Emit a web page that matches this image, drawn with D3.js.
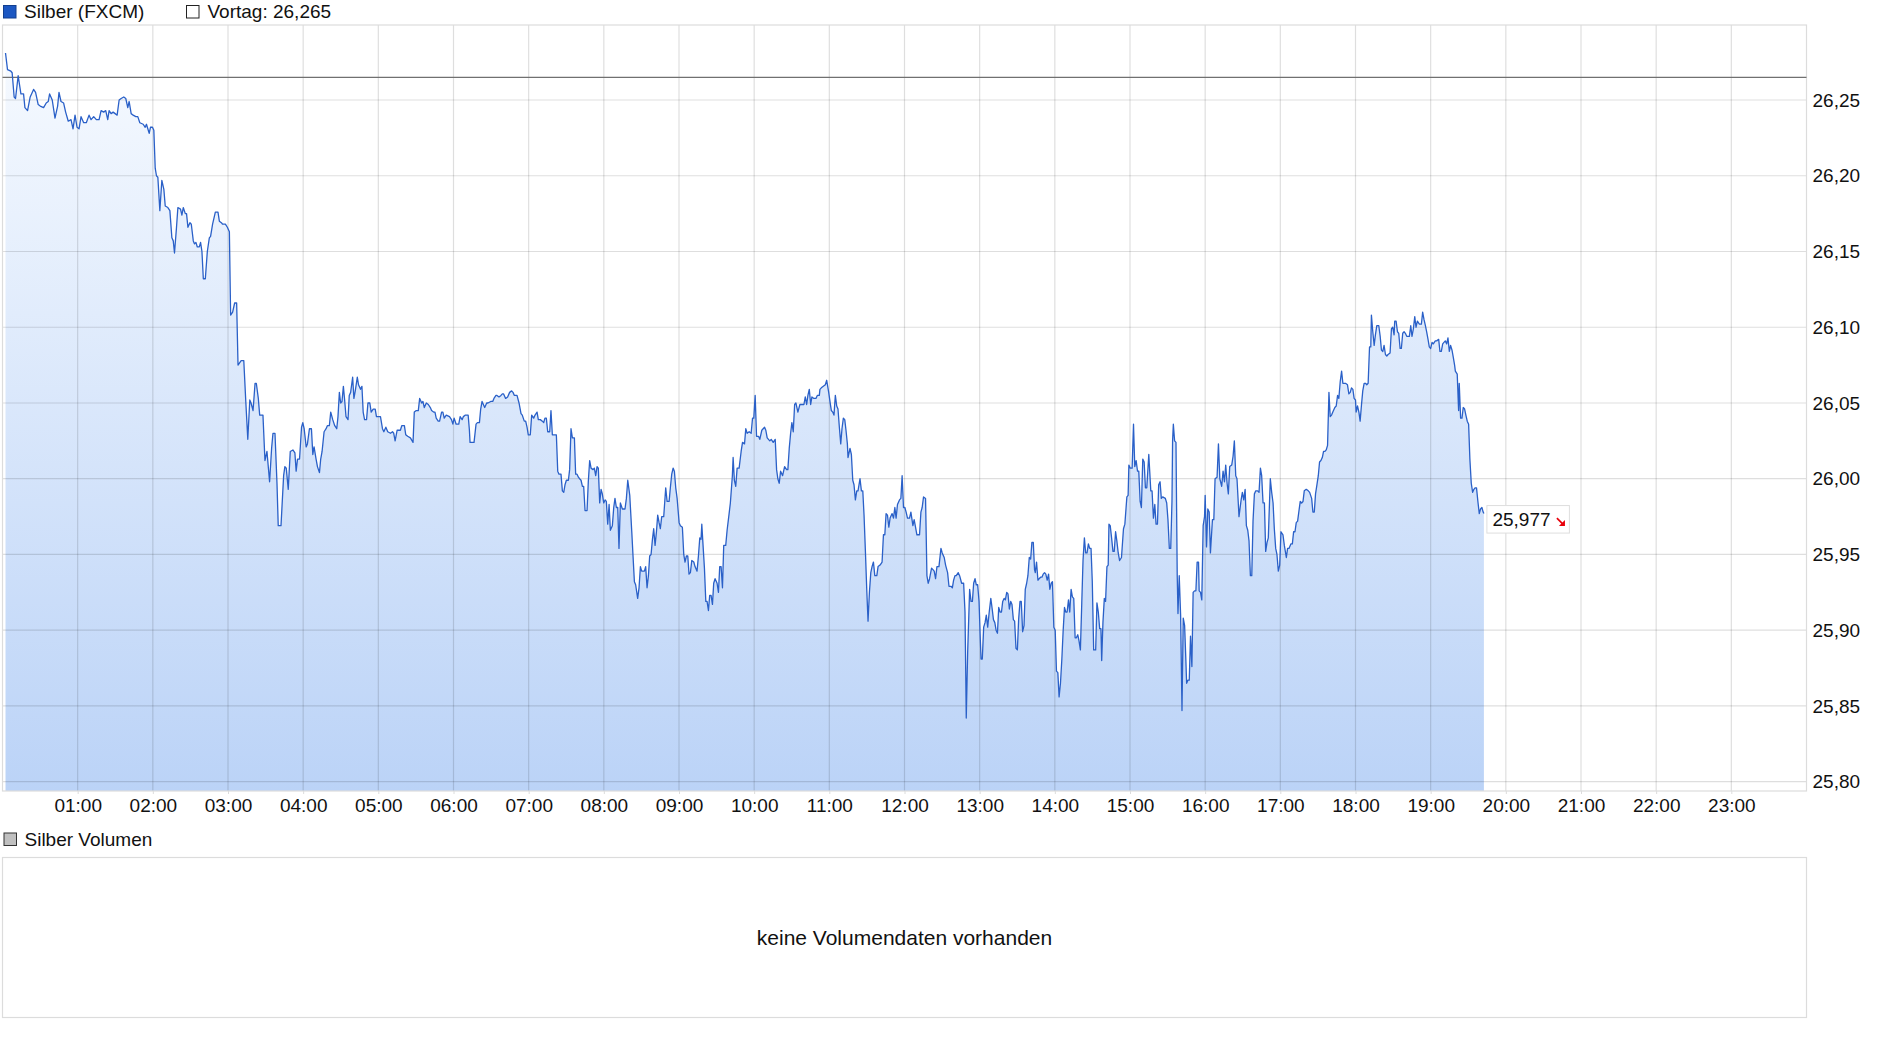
<!DOCTYPE html>
<html>
<head>
<meta charset="utf-8">
<script src="https://cdn.jsdelivr.net/npm/d3@7"></script>
<style>
  html, body { margin: 0; padding: 0; background: #fff; }
  svg { display: block; }
  text { font-family: "Liberation Sans", Arial, sans-serif; }
</style>
</head>
<body>
<svg id="chart" width="1880" height="1037"></svg>
<script>
// ---------- data ----------
const seriesName = "Silber (FXCM)";
const prevClose = 26.265;
const lastPrice = 25.977;
const volumeName = "Silber Volumen";
const volumeNote = "keine Volumendaten vorhanden";
const yTicks = [25.80, 25.85, 25.90, 25.95, 26.00, 26.05, 26.10, 26.15, 26.20, 26.25];
const hourTicks = [1,2,3,4,5,6,7,8,9,10,11,12,13,14,15,16,17,18,19,20,21,22,23];
// [minutes since 00:00, price]
const silber = [
[2.4,26.281],[4.0,26.270],[6.7,26.269],[7.7,26.268],[9.3,26.252],[10.4,26.251],[12.5,26.266],[14.7,26.254],[16.8,26.254],[17.9,26.245],[20.0,26.243],[22.1,26.252],[24.8,26.257],[26.4,26.255],[28.5,26.247],[30.1,26.246],[32.8,26.245],[34.9,26.248],[36.5,26.249],[37.6,26.254],[39.7,26.250],[41.9,26.238],[44.0,26.246],[45.1,26.255],[46.7,26.249],[48.8,26.248],[50.4,26.242],[52.5,26.236],[54.7,26.237],[56.3,26.231],[57.9,26.240],[59.5,26.232],[61.1,26.231],[62.7,26.239],[64.8,26.235],[66.9,26.235],[69.1,26.240],[70.7,26.237],[72.8,26.239],[74.9,26.237],[77.1,26.237],[78.7,26.243],[80.8,26.242],[82.4,26.243],[84.0,26.237],[85.1,26.243],[86.7,26.241],[88.3,26.242],[89.9,26.241],[91.5,26.240],[93.1,26.250],[94.7,26.251],[96.8,26.252],[98.4,26.251],[100.0,26.245],[101.1,26.249],[102.7,26.241],[104.3,26.240],[106.4,26.239],[108.0,26.239],[109.6,26.235],[112.3,26.234],[113.9,26.232],[114.9,26.234],[116.0,26.231],[117.1,26.228],[118.1,26.232],[119.7,26.232],[120.8,26.230],[121.9,26.205],[122.9,26.200],[124.0,26.199],[125.6,26.177],[127.2,26.197],[128.8,26.191],[129.9,26.180],[132.0,26.179],[133.6,26.177],[135.2,26.159],[136.3,26.157],[137.3,26.149],[138.9,26.166],[140.0,26.179],[142.1,26.178],[143.2,26.174],[144.3,26.179],[145.9,26.175],[146.9,26.175],[148.0,26.166],[149.6,26.169],[150.7,26.168],[152.3,26.157],[153.3,26.155],[154.4,26.156],[155.5,26.153],[157.1,26.153],[158.1,26.156],[159.2,26.150],[160.3,26.132],[161.9,26.132],[163.5,26.150],[165.1,26.159],[166.1,26.160],[167.7,26.168],[169.9,26.176],[172.0,26.176],[173.1,26.170],[174.7,26.169],[175.7,26.168],[177.9,26.168],[179.5,26.166],[181.1,26.163],[182.1,26.108],[183.7,26.110],[185.3,26.116],[186.9,26.116],[188.0,26.075],
[190.5,26.078],[192.6,26.078],[194.2,26.051],[195.8,26.026],[197.4,26.052],[198.4,26.050],[200.0,26.045],[201.6,26.063],[202.6,26.063],[204.2,26.053],[205.3,26.042],[207.9,26.042],[209.5,26.012],[211.1,26.018],[213.2,25.998],[214.8,26.020],[215.9,26.030],[217.5,26.030],[219.1,25.997],[220.1,25.969],[222.3,25.969],[224.4,26.002],[225.4,26.008],[226.5,26.007],[228.1,25.993],[229.7,26.018],[231.8,26.019],[233.4,26.017],[234.4,26.005],[235.5,26.013],[237.1,26.013],[238.7,26.034],[239.7,26.037],[240.8,26.033],[242.4,26.021],[243.4,26.023],[245.0,26.033],[246.6,26.033],[247.7,26.016],[248.7,26.021],[250.3,26.013],[251.4,26.008],[253.0,26.004],[254.0,26.013],[255.1,26.018],[256.7,26.031],[258.3,26.033],[259.3,26.035],[260.9,26.035],[262.0,26.044],[263.6,26.039],[265.2,26.035],[266.8,26.033],[267.8,26.041],[268.9,26.057],[269.9,26.050],[271.0,26.051],[272.1,26.061],[273.1,26.052],[274.2,26.041],[275.8,26.039],[276.8,26.055],[277.9,26.057],[279.5,26.067],[280.5,26.053],[281.6,26.058],[283.2,26.067],[284.2,26.062],[285.8,26.059],[286.9,26.061],[287.9,26.044],[289.0,26.039],[290.6,26.039],[291.7,26.050],[293.2,26.050],[294.3,26.044],[295.9,26.046],[297.5,26.046],[298.5,26.041],[300.7,26.041],[301.7,26.041],[303.3,26.033],[304.4,26.031],[306.0,26.034],[307.5,26.031],[309.7,26.030],[311.3,26.031],[312.3,26.030],[313.4,26.025],[315.0,26.032],[317.6,26.032],[318.7,26.035],[320.8,26.035],[321.9,26.029],[323.4,26.028],[325.6,26.027],[327.7,26.024],[328.7,26.044],[330.3,26.045],[331.9,26.045],[333.0,26.053],[334.6,26.050],[335.6,26.051],[336.7,26.047],[338.3,26.050],[339.9,26.049],[341.5,26.047],[342.5,26.045],[344.1,26.044],[345.2,26.044],[346.2,26.040],[347.8,26.038],[348.9,26.038],[350.5,26.044],[351.5,26.044],[352.6,26.040],[354.2,26.042],[356.8,26.041],[358.4,26.039],[359.5,26.036],[360.5,26.040],[362.1,26.036],[364.2,26.036],[365.3,26.041],[366.9,26.039],[367.9,26.041],[369.5,26.042],[371.7,26.042],[372.7,26.032],[373.2,26.024],[376.4,26.024],[378.0,26.036],[379.1,26.037],[380.7,26.037],[381.7,26.046],[382.8,26.051],[384.9,26.047],[386.5,26.050],[387.5,26.050],[389.7,26.051],[391.3,26.051],[392.3,26.053],[393.9,26.055],
[394.7,26.055],[396.3,26.054],[397.9,26.055],[399.0,26.056],[400.0,26.056],[401.6,26.053],[403.2,26.054],[404.8,26.057],[406.4,26.058],[407.5,26.057],[408.6,26.055],[410.7,26.055],[412.3,26.050],[413.9,26.043],[414.9,26.042],[416.5,26.038],[417.6,26.038],[418.7,26.034],[419.7,26.029],[421.3,26.029],[422.4,26.042],[424.0,26.040],[425.1,26.042],[426.7,26.044],[427.7,26.039],[429.3,26.039],[430.9,26.038],[432.0,26.037],[433.0,26.040],[434.1,26.040],[435.2,26.031],[436.8,26.031],[437.8,26.045],[438.9,26.029],[440.5,26.029],[442.1,26.029],[443.2,26.005],[444.2,26.003],[445.8,26.003],[446.9,25.992],[448.0,25.991],[449.0,25.996],[450.1,25.999],[451.7,25.999],[452.7,26.006],[453.8,26.033],[454.9,26.027],[456.5,26.027],[457.5,26.003],[458.6,26.003],[459.7,26.001],[460.7,26.000],[461.8,25.999],[462.9,25.995],[463.9,25.995],[465.0,25.979],[466.6,25.979],[467.6,25.998],[468.7,26.012],[469.8,26.007],[471.4,26.006],[472.4,26.007],[473.5,26.002],[474.6,26.008],[475.6,26.007],[476.7,25.984],[477.8,25.993],[478.8,25.990],[479.9,25.984],[481.0,25.986],[482.0,25.985],[483.1,25.970],[484.2,25.983],[485.2,25.966],[486.8,25.969],[487.9,25.981],[488.9,25.987],[490.0,25.981],[491.1,25.981],[492.1,25.954],[493.2,25.984],[494.8,25.980],[496.9,25.980],[498.0,25.987],[499.1,25.999],[500.7,25.989],[502.3,25.965],[503.3,25.949],[504.4,25.932],[505.4,25.930],[507.0,25.921],[508.1,25.928],[509.2,25.942],[510.2,25.939],[512.4,25.939],[513.4,25.942],[514.5,25.928],[515.6,25.936],[516.6,25.949],[517.7,25.950],[518.8,25.960],[519.8,25.967],[520.9,25.956],[522.0,25.965],[523.0,25.976],[524.1,25.971],[525.1,25.967],[526.2,25.975],[527.8,25.975],[529.4,25.994],[530.5,25.985],[532.1,25.985],[533.1,25.994],[534.2,26.003],[535.3,26.007],[536.3,26.005],[537.4,25.994],[538.5,25.987],[540.1,25.971],[541.1,25.969],[542.7,25.968],[543.8,25.950],[544.8,25.945],[545.9,25.949],[547.0,25.949],[548.0,25.937],[549.1,25.938],[550.2,25.946],[551.8,25.945],[552.8,25.942],[554.4,25.939],[555.5,25.949],[556.6,25.961],[557.6,25.960],[558.2,25.970],[559.2,25.956],[560.3,25.941],[561.4,25.919],[562.4,25.919],[563.5,25.913],[564.5,25.923],[565.6,25.923],[566.7,25.917],[567.7,25.931],[568.8,25.934],[570.4,25.931],[571.5,25.925],[572.5,25.942],[573.6,25.942],[574.7,25.928],[575.7,25.956],[577.3,25.956],[578.4,25.966],[580.0,25.977],[581.0,25.984],[582.6,26.002],[583.2,26.014],[584.2,25.999],[585.3,25.995],[586.4,26.007],[588.0,26.007],
[589.6,26.018],[590.7,26.024],[592.3,26.023],[593.3,26.033],[594.4,26.030],[596.0,26.031],[597.6,26.030],[598.7,26.040],[599.7,26.040],[600.8,26.055],[601.9,26.028],[603.5,26.028],[604.5,26.026],[606.1,26.032],[608.3,26.034],[609.3,26.032],[610.4,26.027],[612.5,26.025],[613.6,26.026],[615.2,26.024],[616.8,26.026],[617.9,26.006],[618.9,26.000],[620.0,25.997],[621.1,26.005],[622.7,26.002],[624.3,26.008],[625.9,26.006],[626.9,26.006],[628.0,26.020],[629.1,26.030],[630.1,26.037],[631.2,26.031],[632.3,26.049],[633.3,26.050],[634.9,26.044],[636.5,26.049],[638.7,26.049],[639.7,26.049],[640.8,26.054],[641.9,26.049],[642.9,26.055],[644.0,26.059],[645.1,26.049],[646.1,26.054],[647.7,26.053],[649.3,26.053],[650.4,26.055],[652.0,26.055],[652.5,26.059],[653.6,26.060],[655.2,26.061],[656.8,26.062],[657.9,26.065],[659.5,26.057],[660.5,26.051],[661.6,26.045],[662.7,26.044],[663.7,26.042],[664.8,26.055],[665.9,26.048],[666.9,26.046],[668.0,26.034],[669.1,26.023],[670.1,26.033],[671.2,26.040],[672.3,26.039],[673.3,26.032],[674.4,26.023],[674.9,26.014],[676.5,26.020],[677.6,26.016],[678.7,25.999],[679.7,25.996],[680.8,25.986],[681.9,25.992],[682.9,25.992],[684.5,26.000],[685.6,25.992],[686.7,25.992],[687.7,25.976],[688.8,25.952],[689.9,25.926],[690.9,25.906],[692.0,25.925],[693.1,25.938],[694.1,25.942],[695.2,25.945],[696.3,25.936],[697.9,25.936],[698.9,25.942],[700.5,25.943],[702.1,25.945],[703.2,25.963],[704.3,25.963],[705.3,25.977],[706.4,25.976],[707.5,25.968],[708.5,25.974],[710.1,25.977],[711.2,25.974],[712.3,25.981],[713.3,25.974],[714.4,25.983],[716.0,25.986],[717.1,25.987],[718.1,26.002],[719.2,25.981],[720.3,25.981],[721.3,25.978],[722.4,25.974],[724.0,25.974],[725.1,25.978],[726.7,25.969],[727.7,25.973],[728.8,25.968],[729.9,25.963],[732.0,25.963],[733.1,25.978],[734.1,25.981],[735.2,25.988],[736.8,25.987],[737.9,25.936],[738.9,25.931],[740.0,25.934],[741.6,25.941],[742.7,25.940],[743.7,25.939],[744.8,25.934],[745.9,25.942],[747.5,25.942],[749.1,25.954],[750.1,25.951],[751.7,25.948],[752.8,25.943],[754.4,25.938],[755.5,25.929],[757.1,25.929],[758.2,25.928],[759.2,25.933],[760.3,25.936],[761.3,25.936],[762.9,25.938],[764.0,25.936],[765.6,25.931],[767.2,25.931],[768.3,25.912],[769.3,25.842],[770.4,25.885],[772.0,25.927],[773.1,25.919],[774.2,25.919],[775.2,25.931],[776.3,25.934],[777.3,25.930],[778.4,25.930],[779.5,25.919],[780.5,25.894],[781.1,25.881],[782.1,25.881],[783.2,25.902],[784.3,25.905],[785.3,25.910],[786.4,25.902],[787.5,25.911],
[788.9,25.921],[790.0,25.914],[791.0,25.907],[792.1,25.905],[793.1,25.900],[794.2,25.898],[795.2,25.915],[796.3,25.912],[797.4,25.912],[798.4,25.919],[799.5,25.921],[800.5,25.920],[801.6,25.925],[802.6,25.924],[803.7,25.914],[804.8,25.919],[805.8,25.917],[806.9,25.907],[807.9,25.906],[809.0,25.888],[810.1,25.887],[811.1,25.907],[812.2,25.919],[813.2,25.919],[814.3,25.899],[815.4,25.903],[816.4,25.927],[817.5,25.931],[818.5,25.936],[819.6,25.948],[820.7,25.947],[821.7,25.958],[822.8,25.958],[823.8,25.940],[824.4,25.938],[825.4,25.945],[826.5,25.933],[827.5,25.934],[828.6,25.935],[829.7,25.935],[830.7,25.937],[831.8,25.938],[832.8,25.937],[833.9,25.933],[835.0,25.937],[836.0,25.927],[837.1,25.931],[838.1,25.932],[839.2,25.902],[840.3,25.900],[841.3,25.873],[842.4,25.872],[843.4,25.856],[844.5,25.865],[845.6,25.881],[846.6,25.899],[847.7,25.915],[848.7,25.912],[849.8,25.912],[850.9,25.920],[851.9,25.912],[853.0,25.927],[854.0,25.922],[855.1,25.921],[856.2,25.895],[857.2,25.895],[858.3,25.897],[859.3,25.893],[860.4,25.887],[861.5,25.918],[862.5,25.946],[863.6,25.961],[864.6,25.951],[865.7,25.951],[866.8,25.957],[867.8,25.954],[868.9,25.954],[869.9,25.932],[871.0,25.887],[872.6,25.887],[873.6,25.918],[874.7,25.912],[875.8,25.901],[876.8,25.901],[877.4,25.880],[878.4,25.905],[879.5,25.921],[880.5,25.919],[881.6,25.942],[882.6,25.943],[883.2,25.970],[884.2,25.969],[885.3,25.961],[886.4,25.952],[887.4,25.952],[888.5,25.965],[889.5,25.959],[890.6,25.951],[891.7,25.946],[893.2,25.948],[894.8,25.967],[895.9,25.970],[897.5,25.988],[898.5,25.989],[899.1,26.009],[900.1,26.007],[901.7,26.007],[902.8,26.036],[903.8,26.008],[904.9,26.012],[906.0,26.005],[907.0,26.005],[908.1,25.985],[909.1,25.981],[910.2,26.013],[911.3,26.011],[912.3,25.994],[913.4,25.994],[915.0,26.016],[916.6,25.992],[917.6,25.992],[918.7,25.974],[919.8,25.983],[920.8,25.970],[921.9,25.970],[922.9,25.996],[924.0,25.998],[925.0,25.987],[926.1,25.988],[928.2,25.987],[929.3,25.984],[930.3,25.973],[931.4,25.954],[932.5,25.954],[933.5,25.985],[934.0,26.025],[934.6,26.036],[935.6,26.025],[936.7,26.024],[937.7,25.936],[938.3,25.911],[939.3,25.936],[940.4,25.910],[941.5,25.847],[942.5,25.908],[943.6,25.903],[944.6,25.880],[945.2,25.865],[946.2,25.867],[947.3,25.867],[948.3,25.896],[949.4,25.876],[950.4,25.925],[951.5,25.926],[952.6,25.926],[953.6,25.945],[954.7,25.945],[955.2,25.926],[956.3,25.925],[957.3,25.920],[958.4,25.969],[959.5,25.975],[960.0,25.989],[961.1,25.955],[962.1,25.980],[963.2,25.978],[964.2,25.951],[965.8,25.973],[966.9,25.973],[967.9,26.000],[969.5,26.001],[970.6,26.023],[971.7,26.000],[973.2,25.995],[974.3,26.005],[975.4,25.998],[976.4,26.009],[977.5,25.997],[978.5,25.990],[979.6,26.008],[981.2,26.009],[982.3,26.015],[983.3,26.025],[984.4,26.002],[985.4,26.000],[986.5,25.983],[987.0,25.975],
[988.7,25.986],[989.7,25.991],[990.8,25.986],[991.9,25.993],[992.9,25.969],[994.0,25.966],[995.0,25.959],[996.1,25.936],[997.2,25.936],[998.2,25.972],[999.3,25.990],[1000.4,25.992],[1001.9,25.992],[1003.0,25.991],[1004.1,26.007],[1005.1,26.002],[1006.2,25.984],[1007.3,25.984],[1008.3,25.952],[1009.4,25.958],[1010.4,25.961],[1012.0,26.000],[1013.1,25.991],[1014.2,25.984],[1015.2,25.967],[1016.3,25.954],[1017.3,25.950],[1018.4,25.939],[1019.5,25.943],[1020.5,25.965],[1022.1,25.963],[1023.2,25.956],[1024.8,25.948],[1025.8,25.954],[1026.9,25.954],[1028.5,25.957],[1029.6,25.957],[1030.6,25.965],[1031.7,25.965],[1032.7,25.971],[1033.8,25.972],[1034.9,25.979],[1035.9,25.985],[1037.0,25.984],[1038.1,25.985],[1039.1,25.992],[1040.7,25.993],[1042.3,25.992],[1043.4,25.991],[1045.0,25.987],[1046.0,25.978],[1047.1,25.978],[1048.1,25.990],[1049.2,25.996],[1050.3,26.002],[1051.3,26.011],[1052.4,26.012],[1053.5,26.014],[1054.5,26.018],[1055.6,26.018],[1056.6,26.019],[1057.7,26.022],[1058.8,26.057],[1059.8,26.041],[1060.9,26.042],[1061.9,26.044],[1063.5,26.047],[1064.6,26.048],[1065.7,26.055],[1066.7,26.053],[1067.8,26.064],[1068.9,26.071],[1069.9,26.063],[1071.0,26.063],[1072.0,26.063],[1073.6,26.062],[1074.7,26.056],[1075.8,26.057],[1076.8,26.060],[1077.9,26.059],[1078.9,26.053],[1080.0,26.052],[1080.5,26.044],[1081.6,26.048],[1082.7,26.044],[1083.7,26.038],[1084.8,26.049],[1085.8,26.058],[1086.9,26.063],[1088.0,26.063],[1089.0,26.062],[1090.1,26.063],[1091.2,26.087],[1092.2,26.087],[1092.7,26.108],[1093.8,26.097],[1094.9,26.088],[1095.9,26.095],[1097.0,26.101],[1098.6,26.101],[1099.7,26.094],[1100.7,26.085],[1101.8,26.084],[1102.8,26.088],[1103.9,26.082],[1105.0,26.081],[1106.0,26.082],[1107.6,26.083],[1108.7,26.099],[1109.7,26.100],[1110.8,26.095],[1111.3,26.104],[1112.4,26.104],[1113.5,26.097],[1114.5,26.096],[1115.6,26.086],[1116.6,26.086],[1117.7,26.096],[1118.8,26.097],[1119.8,26.096],[1120.9,26.094],[1122.0,26.094],[1123.0,26.094],[1124.1,26.101],[1125.1,26.094],[1126.2,26.099],[1127.3,26.107],[1128.3,26.100],[1129.4,26.104],[1131.0,26.102],[1132.6,26.102],[1133.6,26.110],[1134.7,26.105],[1135.8,26.101],[1136.8,26.097],[1137.9,26.092],[1138.9,26.087],[1140.0,26.086],[1141.1,26.090],[1142.1,26.089],[1143.7,26.091],[1144.8,26.091],[1146.4,26.092],[1147.4,26.084],[1148.5,26.084],[1149.6,26.089],[1150.6,26.090],[1151.7,26.091],[1152.8,26.089],[1153.8,26.093],[1154.9,26.084],[1155.9,26.088],[1157.0,26.085],[1158.1,26.080],[1159.1,26.075],[1159.7,26.071],[1161.2,26.069],[1162.3,26.045],[1162.8,26.063],[1163.9,26.040],[1165.0,26.040],[1166.0,26.047],[1167.1,26.046],[1168.1,26.042],[1169.2,26.038],[1170.3,26.036],[1171.3,26.013],[1172.4,25.997],[1173.5,25.991],[1174.5,25.993],[1175.6,25.994],[1176.6,25.994],[1177.7,25.985],[1178.8,25.977],[1179.8,25.980],[1180.9,25.981],[1181.9,25.978],[1182.5,25.977]
];

// ---------- layout ----------
const W = 1880, H = 1037;
const plot = { left: 2.5, right: 1806.5, top: 25, bottom: 791 };
const vol = { top: 857.5, bottom: 1017.5 };
const FONT = 19;

const svg = d3.select("#chart");
const de = d3.formatLocale({ decimal: ",", thousands: ".", grouping: [3], currency: ["", " €"] });
const f2 = de.format(".2f"), f3 = de.format(".3f");

const x = d3.scaleLinear().domain([0, 1440]).range([plot.left, plot.right]);
const y = d3.scaleLinear().domain([25.80, 26.25]).range([781.7, 100]);

// gradient
const defs = svg.append("defs");
const grad = defs.append("linearGradient").attr("id", "fillGrad")
  .attr("gradientUnits", "userSpaceOnUse")
  .attr("x1", 0).attr("x2", 0).attr("y1", plot.top).attr("y2", plot.bottom);
grad.append("stop").attr("offset", 0).attr("stop-color", "#f8fbff");
grad.append("stop").attr("offset", 1).attr("stop-color", "#bbd3f7");
defs.append("clipPath").attr("id", "plotClip").append("rect")
  .attr("x", plot.left).attr("y", plot.top)
  .attr("width", plot.right - plot.left).attr("height", plot.bottom - plot.top);

// area
const area = d3.area().x(d => x(d[0])).y0(plot.bottom).y1(d => y(d[1]));
svg.append("path").datum(silber).attr("d", area)
  .attr("fill", "url(#fillGrad)").attr("clip-path", "url(#plotClip)");

// grid
const grid = svg.append("g").attr("stroke", "rgba(0,0,0,0.13)").attr("stroke-width", 1.2);
grid.selectAll("line.h").data(yTicks).join("line")
  .attr("x1", plot.left).attr("x2", plot.right)
  .attr("y1", d => y(d)).attr("y2", d => y(d));
grid.selectAll("line.v").data(hourTicks).join("line")
  .attr("x1", d => x(d * 60)).attr("x2", d => x(d * 60))
  .attr("y1", plot.top).attr("y2", plot.bottom);

// frame
svg.append("rect").attr("x", plot.left).attr("y", plot.top)
  .attr("width", plot.right - plot.left).attr("height", plot.bottom - plot.top)
  .attr("fill", "none").attr("stroke", "#dcdcdc").attr("stroke-width", 1.2);

// previous close line
svg.append("line").attr("x1", plot.left).attr("x2", plot.right)
  .attr("y1", y(prevClose)).attr("y2", y(prevClose))
  .attr("stroke", "#707070").attr("stroke-width", 1.2);

// price line
const line = d3.line().x(d => x(d[0])).y(d => y(d[1]));
svg.append("path").datum(silber).attr("d", line)
  .attr("fill", "none").attr("stroke", "#2a60c8").attr("stroke-width", 1.3)
  .attr("stroke-linejoin", "round").attr("clip-path", "url(#plotClip)");

// y axis
const yAxis = d3.axisRight(y).tickValues(yTicks).tickFormat(f2).tickSize(0).tickPadding(6);
const gy = svg.append("g").attr("transform", `translate(${plot.right},0)`).call(yAxis);
gy.select(".domain").remove();
gy.selectAll("text").attr("font-size", FONT).attr("fill", "#111")
  .attr("font-family", '"Liberation Sans", Arial, sans-serif');

// x axis
const xAxis = d3.axisBottom(x).tickValues(hourTicks.map(h => h * 60))
  .tickFormat(m => String(m / 60).padStart(2, "0") + ":00").tickSize(3).tickPadding(5);
const gx = svg.append("g").attr("transform", `translate(0,${plot.bottom})`).call(xAxis);
gx.select(".domain").remove();
gx.selectAll("line").attr("stroke", "#dcdcdc");
gx.selectAll("text").attr("font-size", FONT).attr("fill", "#111")
  .attr("font-family", '"Liberation Sans", Arial, sans-serif');

// last price label
const last = silber[silber.length - 1];
const lx = x(last[0]) + 3, ly = y(lastPrice) - 8;
const lab = svg.append("g");
lab.append("rect").attr("x", lx).attr("y", ly).attr("width", 82.5).attr("height", 27.5)
  .attr("fill", "#fff").attr("stroke", "#dedede").attr("stroke-width", 1);
lab.append("text").attr("x", lx + 5.5).attr("y", ly + 20).attr("font-size", FONT)
  .attr("fill", "#111").text(f3(lastPrice));
lab.append("line").attr("x1", lx + 70).attr("y1", ly + 12.5).attr("x2", lx + 76.5).attr("y2", ly + 19)
  .attr("stroke", "#e8000b").attr("stroke-width", 1.6);
lab.append("path").attr("d", `M${lx + 78},${ly + 20.5} L${lx + 78},${ly + 14.5} L${lx + 72},${ly + 20.5} Z`)
  .attr("fill", "#e8000b");

// top legend
svg.append("rect").attr("x", 3.5).attr("y", 5.5).attr("width", 12.5).attr("height", 12.5)
  .attr("fill", "#1c57c2").attr("stroke", "#123f8f").attr("stroke-width", 1);
svg.append("text").attr("x", 24).attr("y", 18.3).attr("font-size", FONT).attr("fill", "#111").text(seriesName);
svg.append("rect").attr("x", 186.5).attr("y", 5.5).attr("width", 12.5).attr("height", 12.5)
  .attr("fill", "#fff").attr("stroke", "#222").attr("stroke-width", 1);
svg.append("text").attr("x", 207.5).attr("y", 18.3).attr("font-size", FONT).attr("fill", "#111")
  .text("Vortag: " + f3(prevClose));

// volume panel
svg.append("rect").attr("x", 4).attr("y", 833).attr("width", 12.5).attr("height", 12.5)
  .attr("fill", "#c0c0c0").attr("stroke", "#333").attr("stroke-width", 1);
svg.append("text").attr("x", 24.5).attr("y", 846).attr("font-size", FONT).attr("fill", "#111").text(volumeName);
svg.append("rect").attr("x", plot.left).attr("y", vol.top)
  .attr("width", plot.right - plot.left).attr("height", vol.bottom - vol.top)
  .attr("fill", "#fff").attr("stroke", "#dcdcdc").attr("stroke-width", 1.2);
svg.append("text").attr("x", (plot.left + plot.right) / 2).attr("y", (vol.top + vol.bottom) / 2)
  .attr("text-anchor", "middle").attr("dominant-baseline", "central")
  .attr("font-size", 21).attr("fill", "#111").text(volumeNote);
</script>
</body>
</html>
